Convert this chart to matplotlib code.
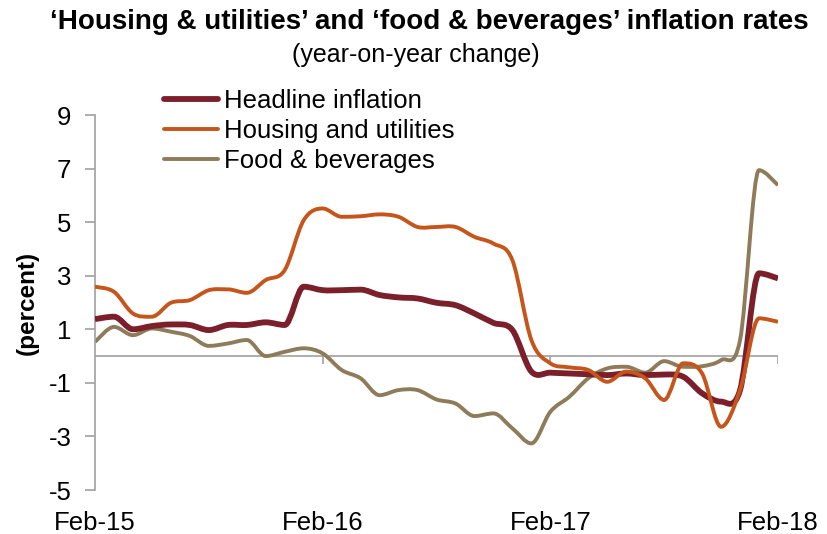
import numpy as np
import matplotlib.pyplot as plt
from matplotlib.path import Path
from matplotlib.patches import PathPatch
from matplotlib.lines import Line2D

plt.rcParams['font.family'] = ['Liberation Sans', 'DejaVu Sans']

# monthly, Feb-15 .. Feb-18
months = np.arange(37)
tick_pos = [0, 12, 24, 36]
tick_labels = ["Feb-15", "Feb-16", "Feb-17", "Feb-18"]
y_ticks = [-5, -3, -1, 1, 3, 5, 7, 9]

headline = [1.38, 1.47, 1.00, 1.12, 1.18, 1.16, 0.97, 1.16, 1.16, 1.26, 1.16, 2.59,
            2.46, 2.46, 2.48, 2.28, 2.19, 2.15, 1.99, 1.90, 1.59, 1.24, 0.97, -0.58,
            -0.62, -0.65, -0.68, -0.71, -0.65, -0.71, -0.69, -0.77, -1.39, -1.70, -1.27, 3.09,
            2.90]
housing = [2.59, 2.40, 1.59, 1.47, 1.99, 2.09, 2.46, 2.49, 2.36, 2.84, 3.21, 5.07,
           5.51, 5.20, 5.22, 5.29, 5.20, 4.82, 4.82, 4.82, 4.45, 4.20, 3.58, 0.60,
           -0.27, -0.42, -0.52, -0.96, -0.58, -0.83, -1.64, -0.27, -0.65, -2.64, -1.27, 1.41,
           1.28]
food = [0.53, 1.09, 0.78, 1.03, 0.91, 0.75, 0.38, 0.47, 0.60, 0.00, 0.16, 0.29,
        0.10, -0.52, -0.83, -1.46, -1.27, -1.27, -1.62, -1.77, -2.24, -2.14, -2.70, -3.26,
        -2.08, -1.52, -0.83, -0.46, -0.40, -0.62, -0.19, -0.40, -0.38, -0.15, 0.60, 6.94,
        6.38]


def smooth_path(x, y):
    # smoothed line like excel: bezier segments through every point,
    # flat tangent at local peaks/troughs so it does not overshoot
    p = np.column_stack([x, y]).astype(float)
    n = len(p)
    tang = np.zeros_like(p)
    for i in range(n):
        a = p[max(i - 1, 0)]
        b = p[min(i + 1, n - 1)]
        tang[i] = (b - a) / 6
        if 0 < i < n - 1 and (p[i, 1] - a[1]) * (b[1] - p[i, 1]) < 0:
            tang[i, 1] = 0
    verts = [p[0]]
    codes = [Path.MOVETO]
    for i in range(n - 1):
        verts += [p[i] + tang[i], p[i + 1] - tang[i + 1], p[i + 1]]
        codes += [Path.CURVE4] * 3
    return Path(verts, codes)


fig = plt.figure(figsize=(8.28, 5.34), dpi=100)
ax = fig.add_axes([95/828, 1-490/534, 683/828, 375/534])

gray = "#a0a0a0"
ax.axhline(0, color=gray, lw=1.2, zorder=1)
ax.vlines(tick_pos[1:], -0.28, 0, color=gray, lw=1.2, zorder=1)

series = [("Headline inflation", headline, "#7b1f2b", 4.2, 3),
          ("Housing and utilities", housing, "#c5551a", 2.8, 4),
          ("Food & beverages", food, "#8e7b5a", 2.8, 2)]
handles = []
for name, vals, col, lw, z in series:
    ax.add_patch(PathPatch(smooth_path(months, vals), facecolor="none", edgecolor=col,
                           lw=lw, joinstyle="round", capstyle="butt", zorder=z))
    handles.append(Line2D([], [], color=col, lw=lw, solid_capstyle="round", label=name))

ax.set_xlim(0, 36)
ax.set_ylim(-5, 9)
ax.set_yticks(y_ticks)
ax.set_yticklabels([str(v) for v in y_ticks])
ax.set_xticks(tick_pos)
ax.set_xticklabels(tick_labels)
ax.tick_params(axis="x", length=0, labelsize=18.5, pad=15)
ax.tick_params(axis="y", length=7, width=1.2, color=gray, labelsize=18.5, pad=10)
for s in ["top", "right", "bottom"]:
    ax.spines[s].set_visible(False)
ax.spines["left"].set_color(gray)
ax.spines["left"].set_linewidth(1.2)
ax.patch.set_alpha(0)

ax.set_ylabel("(percent)", fontsize=17.5, fontweight="bold")
ax.yaxis.set_label_coords(-0.083, 0.5)

fig.text(429/828, 1-22/534, "\u2018Housing & utilities\u2019 and \u2018food & beverages\u2019 inflation rates",
         ha="center", va="center", fontsize=20, fontweight="bold")
fig.text(416/828, 1-55/534, "(year-on-year change)", ha="center", va="center", fontsize=18)

fig.legend(handles=handles, loc="upper left", bbox_to_anchor=(164/828, 1-89/534), frameon=False,
           fontsize=18.5, handlelength=2.1, handletextpad=0.25, labelspacing=0.24,
           borderaxespad=0, borderpad=0)

fig.savefig("out.png", dpi=100)
